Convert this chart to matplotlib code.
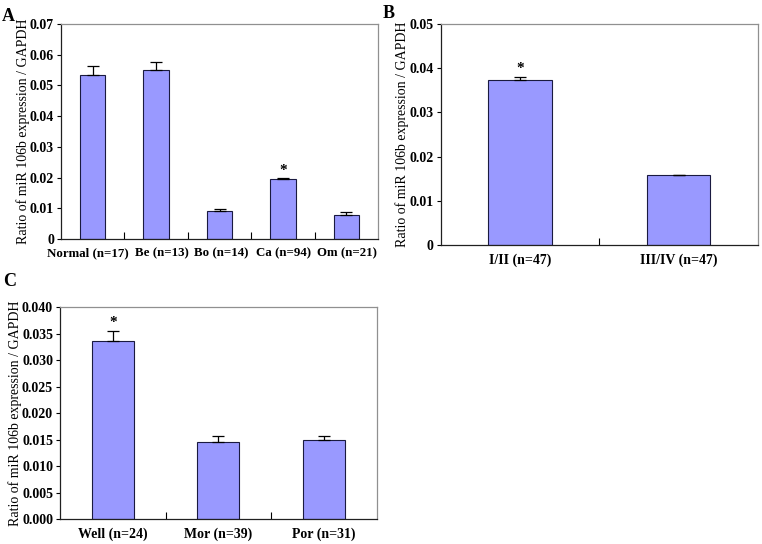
import numpy as np
import matplotlib
matplotlib.use('Agg')
import matplotlib.pyplot as plt
import matplotlib.transforms as mtrans

plt.rcParams['font.family'] = ['Liberation Serif', 'DejaVu Serif']
plt.rcParams['font.weight'] = 'bold'

# panel A: tissue types
a_labels = ['Normal (n=17)', 'Be (n=13)', 'Bo (n=14)', 'Ca (n=94)', 'Om (n=21)']
a_values = [0.0533, 0.0551, 0.0090, 0.0195, 0.0077]
a_errors = [0.0030, 0.0025, 0.0008, 0.0002, 0.0010]
a_star = [False, False, False, True, False]

# panel B: stage
b_labels = ['I/II (n=47)', 'III/IV (n=47)']
b_values = [0.0373, 0.0158]
b_errors = [0.0007, 0.0]
b_star = [True, False]

# panel C: differentiation
c_labels = ['Well (n=24)', 'Mor (n=39)', 'Por (n=31)']
c_values = [0.0336, 0.0146, 0.0150]
c_errors = [0.0019, 0.0010, 0.0006]
c_star = [True, False, False]

bar_color = '#9999ff'
ylab = 'Ratio of miR 106b expression / GAPDH'


def panel(ax, labels, values, errors, stars, ymax, step, fmt, star_pad, xfs=10):
    n = len(labels)
    x = np.arange(n)
    ax.bar(x, values, width=0.4, color=bar_color, edgecolor='#1a1a40',
           linewidth=0.8, zorder=2)
    lo = np.zeros(n)
    ax.errorbar(x, values, yerr=[lo, errors], fmt='none', ecolor='black',
                elinewidth=0.9, capsize=4.5, capthick=0.9, zorder=3)
    for i in range(n):
        if stars[i]:
            ax.text(x[i], values[i] + errors[i] + star_pad, '*', ha='center',
                    va='bottom', fontsize=11)
    ax.set_xlim(-0.5, n - 0.5)
    ax.set_ylim(0, ymax)
    ticks = np.arange(0, ymax + step / 2, step)
    ax.set_yticks(ticks)
    ax.set_yticklabels([fmt(t) for t in ticks], fontsize=10)
    ax.set_xticks(x)
    ax.set_xticklabels(labels, fontsize=xfs)
    ax.set_xticks(np.arange(0.5, n - 0.5, 1), minor=True)
    ax.tick_params(axis='x', which='major', length=0, pad=6)
    ax.tick_params(axis='x', which='minor', direction='in', length=5, width=0.8)
    ax.tick_params(axis='y', direction='out', length=3, width=0.8, pad=2)
    ax.set_ylabel(ylab, fontsize=10, labelpad=0)
    for s in ['left', 'bottom']:
        ax.spines[s].set_color('#202020')
        ax.spines[s].set_linewidth(0.9)
    for s in ['top', 'right']:
        ax.spines[s].set_color('#909090')
        ax.spines[s].set_linewidth(0.9)


fig = plt.figure(figsize=(7.62, 5.44), dpi=100)

axA = fig.add_axes([0.0801, 0.5607, 0.4160, 0.3952])
panel(axA, a_labels, a_values, a_errors, a_star, 0.07, 0.01,
      lambda t: '0' if t == 0 else '%.2f' % t, 0.0006, xfs=9.3)
# the first two labels sit slightly apart in the original
shifts = [-5, 6, 2, 1, 1]
for lab, dx in zip(axA.get_xticklabels(), shifts):
    lab.set_transform(lab.get_transform() +
                      mtrans.ScaledTranslation(dx / 100, 0, fig.dpi_scale_trans))

axB = fig.add_axes([0.5783, 0.5496, 0.4165, 0.4063])
panel(axB, b_labels, b_values, b_errors, b_star, 0.05, 0.01,
      lambda t: '0' if t == 0 else '%.2f' % t, 0.0005)

axC = fig.add_axes([0.0787, 0.0454, 0.4157, 0.3903])
panel(axC, c_labels, c_values, c_errors, c_star, 0.04, 0.005,
      lambda t: '%.3f' % t, 0.0004)

fig.text(0.002, 0.985, 'A', fontsize=13, va='top', ha='left')
fig.text(0.502, 0.990, 'B', fontsize=13, va='top', ha='left')
fig.text(0.004, 0.498, 'C', fontsize=13, va='top', ha='left')

fig.savefig('out.png', dpi=100)
